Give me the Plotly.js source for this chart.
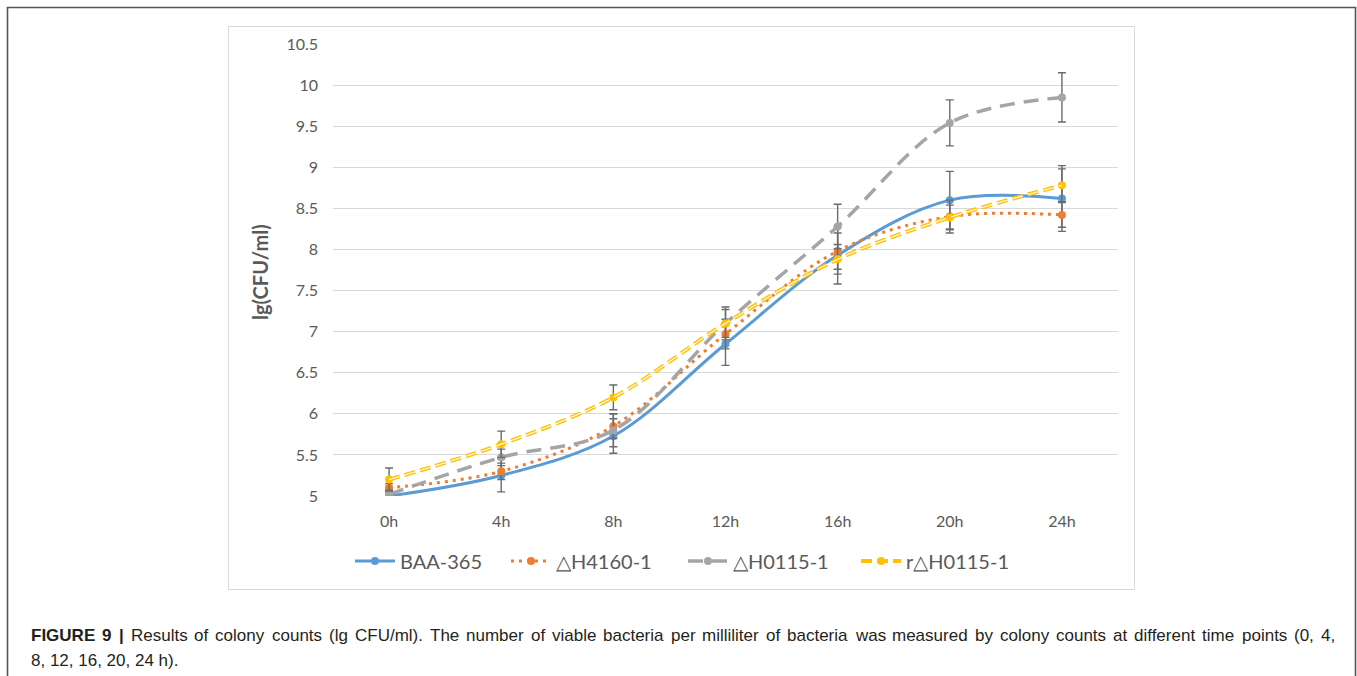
<!DOCTYPE html>
<html>
<head>
<meta charset="utf-8">
<script src="https://cdn.plot.ly/plotly-3.0.1.min.js"></script>
<style>
  html, body { margin: 0; padding: 0; background: #ffffff; }
  #chart { width: 1357px; height: 676px; }
</style>
</head>
<body>
<div id="chart"></div>
<script>
// ---- data ----
const timeLabels = ['0h', '4h', '8h', '12h', '16h', '20h', '24h'];
const seriesNames = ['BAA-365', '\u25B3H4160-1', '\u25B3H0115-1', 'r\u25B3H0115-1'];
const baa365 = [5.00, 5.25, 5.73, 6.85, 7.93, 8.60, 8.62];
const baa365Err = [0.05, 0.20, 0.21, 0.26, 0.35, 0.35, 0.40];
const h4160 = [5.10, 5.30, 5.85, 6.97, 7.98, 8.40, 8.42];
const h4160Err = [0.05, 0.10, 0.15, 0.18, 0.22, 0.20, 0.15];
const h0115 = [5.02, 5.47, 5.80, 7.10, 8.28, 9.54, 9.85];
const h0115Err = [0.05, 0.10, 0.20, 0.20, 0.27, 0.28, 0.30];
const rh0115 = [5.20, 5.63, 6.20, 7.10, 7.88, 8.39, 8.78];
const rh0115Err = [0.14, 0.16, 0.15, 0.17, 0.18, 0.15, 0.20];
const yTitle = 'lg(CFU/ml)';
const captionBold = 'FIGURE 9 |';
const captionLine1 = 'Results of colony counts (lg CFU/ml). The number of viable bacteria per milliliter of bacteria was measured by colony counts at different time points (0, 4,';
const captionLine2 = '8, 12, 16, 20, 24 h).';

// ---- layout geometry (pixels) ----
const W = 1357, H = 676;
const M = { l: 333, r: 239, t: 44, b: 180 };
const PW = W - M.l - M.r, PH = H - M.t - M.b;
const px = x => (x - M.l) / PW;
const py = y => (H - M.b - y) / PH;

const errStyle = { type: 'data', visible: true, color: '#6b6b6b', thickness: 1.4, width: 4 };
function errOf(arr) { return Object.assign({}, errStyle, { array: arr }); }

const legendWidths = [101, 122, 118, 104];

const traces = [
  {
    x: timeLabels, y: baa365, name: seriesNames[0], type: 'scatter', mode: 'lines+markers',
    line: { color: '#5B9BD5', width: 3, shape: 'spline', smoothing: 1 },
    marker: { color: '#5B9BD5', size: 8, symbol: 'circle' },
    error_y: errOf(baa365Err), legendwidth: legendWidths[0]
  },
  {
    x: timeLabels, y: h4160, name: seriesNames[1], type: 'scatter', mode: 'lines+markers',
    line: { color: '#ED7D31', width: 3, shape: 'spline', smoothing: 1, dash: '3px,5px' },
    marker: { color: '#ED7D31', size: 8, symbol: 'circle' },
    error_y: errOf(h4160Err), legendwidth: legendWidths[1]
  },
  {
    x: timeLabels, y: h0115, name: seriesNames[2], type: 'scatter', mode: 'lines+markers',
    line: { color: '#A5A5A5', width: 3.5, shape: 'spline', smoothing: 1, dash: '15px,9px' },
    marker: { color: '#A5A5A5', size: 8, symbol: 'circle' },
    error_y: errOf(h0115Err), legendwidth: legendWidths[2]
  },
  {
    x: timeLabels, y: rh0115, name: seriesNames[3], type: 'scatter', mode: 'lines+markers',
    line: { color: '#FFC000', width: 4, shape: 'spline', smoothing: 1, dash: '11px,5px' },
    marker: { color: '#FFC000', size: 8, symbol: 'circle' },
    error_y: errOf(rh0115Err), legendwidth: legendWidths[3]
  },
  {
    x: timeLabels, y: rh0115, name: seriesNames[3], type: 'scatter', mode: 'lines',
    line: { color: '#FFF6D9', width: 1.3, shape: 'spline', smoothing: 1, dash: '11px,5px' },
    showlegend: false, hoverinfo: 'skip'
  }
];

const fontTick = { family: 'Lato, "Open Sans", sans-serif', size: 16, color: '#595959' };
const capFamily = '"Liberation Sans", Arial, sans-serif';
const capSize = 17;
const capColor = '#231f20';

// justified caption line 1: measure words and spread them between the margins
const canvas = document.createElement('canvas');
const ctx = canvas.getContext('2d');
function measure(word, bold) {
  ctx.font = (bold ? 'bold ' : '') + capSize + 'px "Liberation Sans", Arial, sans-serif';
  return ctx.measureText(word).width;
}
const words = captionBold.split(' ').map(w => ({ w: w, b: true }))
  .concat(captionLine1.split(' ').map(w => ({ w: w, b: false })));
const widths = words.map(o => measure(o.w, o.b));
const totalW = widths.reduce((a, b) => a + b, 0);
const capLeft = 30, capRight = 1334;
const gap = (capRight - capLeft - totalW) / (words.length - 1);
const captionAnns = [];
let cx = capLeft;
words.forEach((o, i) => {
  captionAnns.push({
    xref: 'paper', yref: 'paper', x: px(cx), y: py(635), xanchor: 'left', yanchor: 'middle',
    showarrow: false, borderpad: 0,
    text: o.b ? '<b>' + o.w + '</b>' : o.w,
    font: { family: capFamily, size: capSize, color: capColor }
  });
  cx += widths[i] + gap;
});
captionAnns.push({
  xref: 'paper', yref: 'paper', x: px(capLeft), y: py(660), xanchor: 'left', yanchor: 'middle',
  showarrow: false, borderpad: 0, align: 'left', text: captionLine2,
  font: { family: capFamily, size: capSize, color: capColor }
});

const layout = {
  width: W, height: H,
  margin: M,
  paper_bgcolor: '#ffffff', plot_bgcolor: '#ffffff',
  showlegend: true,
  xaxis: {
    type: 'category', range: [-0.5, 6.5],
    showgrid: false, zeroline: false, showline: false, ticks: '',
    tickfont: fontTick, ticklabelstandoff: 14, fixedrange: true
  },
  yaxis: {
    range: [5, 10.5], dtick: 0.5, tick0: 5,
    showgrid: true, gridcolor: '#d9d9d9', gridwidth: 1,
    zeroline: false, showline: false, ticks: '',
    tickfont: fontTick, ticklabelstandoff: 14, fixedrange: true
  },
  legend: {
    orientation: 'h', x: px(350), xanchor: 'left', y: py(561), yanchor: 'middle',
    font: { family: 'Lato, "Open Sans", sans-serif', size: 20, color: '#595959' },
    bgcolor: 'rgba(0,0,0,0)', itemwidth: 40, traceorder: 'normal'
  },
  shapes: [
    { type: 'rect', xref: 'paper', yref: 'paper', x0: px(7.5), x1: px(1355.5), y0: py(7.5), y1: py(720),
      line: { color: '#555555', width: 1.6 }, fillcolor: 'rgba(0,0,0,0)', layer: 'below' },
    { type: 'rect', xref: 'paper', yref: 'paper', x0: px(228.5), x1: px(1134.5), y0: py(26.5), y1: py(589.5),
      line: { color: '#d9d9d9', width: 1 }, fillcolor: 'rgba(0,0,0,0)', layer: 'below' }
  ],
  annotations: [
    { xref: 'paper', yref: 'paper', x: px(260), y: py(272), text: '<b>' + yTitle + '</b>',
      textangle: -90, showarrow: false, xanchor: 'center', yanchor: 'middle',
      font: { family: 'Lato, "Open Sans", sans-serif', size: 20, color: '#595959' } }
  ].concat(captionAnns)
};

Plotly.newPlot('chart', traces, layout, { displayModeBar: false, staticPlot: true });
</script>
</body>
</html>
